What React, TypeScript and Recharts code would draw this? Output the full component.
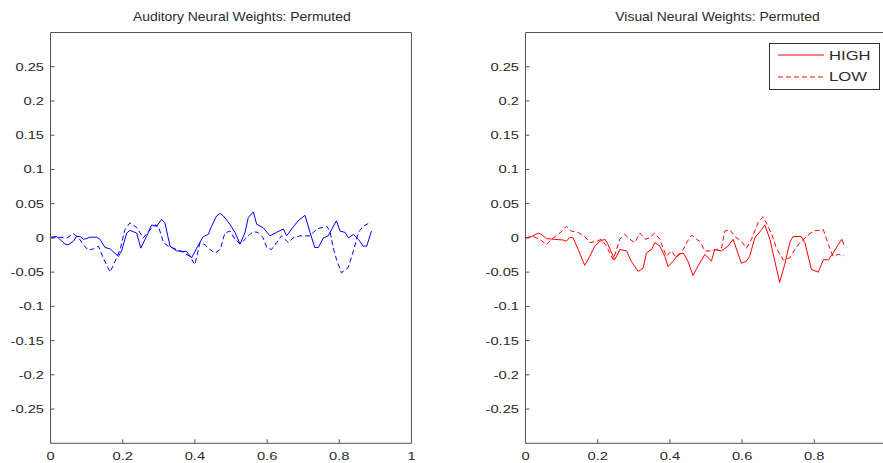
import React from "react";
import { LineChart, Line, XAxis, YAxis, Legend } from "recharts";

// [x, weight] pairs
const auditoryHigh: [number, number][] = [
  [0, 0.001], [0.017, 0.002], [0.026, -0.002], [0.04, -0.009], [0.049, -0.01], [0.063, -0.005],
  [0.072, 0.002], [0.082, 0.002], [0.091, -0.002], [0.1, -0.001], [0.109, 0.001], [0.128, 0.001],
  [0.137, -0.002], [0.151, -0.014], [0.165, -0.016], [0.188, -0.027], [0.197, -0.019], [0.211, 0.007],
  [0.22, 0.011], [0.239, 0.007], [0.25, -0.015], [0.266, 0.002], [0.28, 0.019], [0.294, 0.017],
  [0.308, 0.027], [0.317, 0.022], [0.331, -0.012], [0.349, -0.019], [0.377, -0.02], [0.391, -0.029],
  [0.405, -0.015], [0.423, 0.002], [0.437, 0.005], [0.446, 0.017], [0.46, 0.032], [0.47, 0.036],
  [0.479, 0.032], [0.497, 0.02], [0.511, 0.008], [0.525, -0.009], [0.539, 0.008], [0.548, 0.03],
  [0.562, 0.038], [0.571, 0.02], [0.589, 0.015], [0.608, 0.003], [0.626, 0.008], [0.645, 0.013],
  [0.654, 0.003], [0.668, 0.013], [0.686, 0.025], [0.705, 0.033], [0.719, 0.008], [0.732, -0.014],
  [0.742, -0.014], [0.756, 0], [0.769, 0.003], [0.792, 0.025], [0.802, 0.01], [0.816, 0.008],
  [0.825, 0], [0.839, 0.005], [0.853, -0.002], [0.866, -0.012], [0.876, -0.012], [0.889, 0.01],
];

const auditoryLow: [number, number][] = [
  [0, 0], [0.026, 0.001], [0.045, 0], [0.063, 0.006], [0.077, 0.001], [0.091, -0.01], [0.105, -0.018],
  [0.119, -0.016], [0.133, -0.012], [0.146, -0.029], [0.165, -0.05], [0.179, -0.034], [0.193, -0.017],
  [0.206, 0.012], [0.22, 0.022], [0.239, 0.015], [0.257, 0], [0.276, 0.012], [0.29, 0.019],
  [0.299, 0.017], [0.313, -0.007], [0.326, -0.012], [0.34, -0.015], [0.368, -0.021], [0.386, -0.027],
  [0.4, -0.039], [0.414, -0.007], [0.428, -0.01], [0.442, -0.017], [0.456, -0.022], [0.47, -0.017],
  [0.483, 0.007], [0.497, 0.01], [0.511, -0.002], [0.525, -0.009], [0.539, -0.002], [0.552, 0.005],
  [0.562, 0.009], [0.575, 0.008], [0.589, 0], [0.599, -0.014], [0.612, -0.017], [0.626, -0.007],
  [0.64, 0.003], [0.659, -0.007], [0.672, 0], [0.691, 0.003], [0.719, 0.003], [0.737, 0.013],
  [0.765, 0.017], [0.774, 0.01], [0.783, -0.014], [0.792, -0.031], [0.806, -0.051], [0.825, -0.043],
  [0.839, -0.019], [0.853, 0.008], [0.866, 0.017], [0.88, 0.021],
];

const visualHigh: [number, number][] = [
  [0, 0], [0.017, 0.002], [0.035, 0.007], [0.044, 0.005], [0.058, -0.001], [0.077, -0.002],
  [0.104, -0.003], [0.113, -0.005], [0.123, 0.001], [0.132, 0], [0.146, -0.017], [0.164, -0.04],
  [0.178, -0.027], [0.192, -0.012], [0.206, -0.005], [0.22, -0.002], [0.229, -0.01], [0.247, -0.032],
  [0.257, -0.022], [0.261, -0.017], [0.28, -0.019], [0.293, -0.034], [0.312, -0.049], [0.326, -0.044],
  [0.335, -0.022], [0.349, -0.017], [0.358, -0.007], [0.372, -0.012], [0.386, -0.027], [0.395, -0.042],
  [0.409, -0.034], [0.423, -0.024], [0.437, -0.022], [0.45, -0.034], [0.464, -0.055], [0.478, -0.041],
  [0.497, -0.024], [0.515, -0.034], [0.524, -0.017], [0.543, -0.019], [0.561, -0.012], [0.575, -0.002],
  [0.598, -0.037], [0.612, -0.034], [0.621, -0.027], [0.635, 0], [0.654, 0.012], [0.663, 0.019],
  [0.677, -0.002], [0.704, -0.065], [0.718, -0.039], [0.732, -0.007], [0.741, 0.002], [0.764, 0.002],
  [0.774, -0.007], [0.792, -0.046], [0.811, -0.05], [0.825, -0.032], [0.839, -0.032], [0.852, -0.022],
  [0.866, -0.01], [0.876, -0.002], [0.882, -0.01],
];

const visualLow: [number, number][] = [
  [0, 0], [0.021, 0.002], [0.04, -0.002], [0.058, -0.01], [0.072, -0.002], [0.095, 0.007],
  [0.113, 0.017], [0.127, 0.01], [0.146, 0.008], [0.164, 0.002], [0.178, -0.007], [0.197, -0.005],
  [0.21, -0.002], [0.224, -0.012], [0.243, -0.032], [0.261, -0.002], [0.275, 0.005], [0.289, -0.002],
  [0.303, -0.007], [0.317, 0.007], [0.331, -0.002], [0.344, 0], [0.358, 0.007], [0.372, -0.002],
  [0.39, -0.027], [0.404, -0.019], [0.418, -0.029], [0.437, -0.017], [0.446, -0.007], [0.46, 0.004],
  [0.473, -0.002], [0.483, -0.005], [0.497, -0.019], [0.515, -0.019], [0.529, -0.017], [0.543, -0.015],
  [0.552, 0.01], [0.566, 0.012], [0.58, 0.002], [0.598, -0.005], [0.612, -0.015], [0.626, -0.002],
  [0.644, 0.022], [0.658, 0.031], [0.667, 0.022], [0.681, 0.007], [0.695, -0.015], [0.714, -0.032],
  [0.732, -0.029], [0.746, -0.017], [0.76, -0.007], [0.778, 0.002], [0.797, 0.01], [0.825, 0.012],
  [0.839, -0.01], [0.852, -0.027], [0.866, -0.024], [0.882, -0.026],
];

const xTicks = [0, 0.2, 0.4, 0.6, 0.8, 1];
const xTicksCut = [0, 0.2, 0.4, 0.6, 0.8]; // the "1" of the right panel falls off the page
const yTicks = [0.25, 0.2, 0.15, 0.1, 0.05, 0, -0.05, -0.1, -0.15, -0.2, -0.25];
const seriesNames = ["HIGH", "LOW"];
const titles = ["Auditory Neural Weights: Permuted", "Visual Neural Weights: Permuted"];

const FONT = '"Liberation Sans", Arial, Helvetica, sans-serif';
const TEXT = "#2b2b2b";
const AXIS = "#555555";
const W = 440;
const H = 463;
const STRETCH = 1.28;

const toRows = (pts: [number, number][]) => pts.map(([x, y]) => ({ x, y }));
const fmt = (v: number) => String(Number(v.toFixed(2)));

const XTick = (props: any) => {
  const { x, y, payload } = props;
  return (
    <text transform={`translate(${x},${y}) scale(${STRETCH},1)`} textAnchor="middle" dy="0.71em"
      fill={TEXT} fontSize={11.5} fontFamily={FONT}>
      {fmt(payload.value)}
    </text>
  );
};

const YTick = (props: any) => {
  const { x, y, payload } = props;
  return (
    <text transform={`translate(${x},${y}) scale(${STRETCH},1)`} textAnchor="end" dy="0.35em"
      fill={TEXT} fontSize={11.5} fontFamily={FONT}>
      {fmt(payload.value)}
    </text>
  );
};

const NoTick = () => <g />;

const LegendBox = (props: any) => {
  const items = props.payload || [];
  return (
    <div style={{ width: 111, height: 47, boxSizing: "border-box", border: "1px solid #333", background: "#fff", paddingTop: 1 }}>
      {items.map((e: any) => (
        <div key={e.value} style={{ display: "flex", alignItems: "center", height: 21.5 }}>
          <svg width={54} height={10} style={{ display: "block" }}>
            <line x1={8} x2={54} y1={5} y2={5} stroke={e.color}
              strokeDasharray={e.payload?.strokeDasharray} strokeWidth={1} />
          </svg>
          <span style={{ marginLeft: 5, fontFamily: FONT, fontSize: 13, color: TEXT, display: "inline-block",
            transform: `scaleX(${STRETCH})`, transformOrigin: "left center", lineHeight: "13px" }}>
            {e.value}
          </span>
        </div>
      ))}
    </div>
  );
};

function Panel({ left, title, high, low, color, legend, labelTicks }: any) {
  return (
    <div style={{ position: "absolute", left, top: 0, width: W, height: H }}>
      <div style={{ position: "absolute", left: 22, top: 9, width: W, textAlign: "center", fontFamily: FONT,
        fontSize: 13, color: TEXT, lineHeight: "15px", whiteSpace: "nowrap" }}>
        <span style={{ display: "inline-block", transform: "scaleX(1.07)" }}>{title}</span>
      </div>
      <LineChart width={W} height={H} margin={{ top: 31.5, right: 27.5, bottom: 0, left: 0.5 }}>
        <XAxis xAxisId="b" type="number" dataKey="x" domain={[0, 1]} ticks={labelTicks} height={19.7}
          tickSize={-4} tickMargin={12.7} stroke={AXIS} tick={<XTick />} interval={0} />
        <XAxis xAxisId="t" orientation="top" type="number" dataKey="x" domain={[0, 1]} ticks={xTicks}
          height={1} tickSize={-4} stroke={AXIS} tick={<NoTick />} interval={0} />
        <YAxis yAxisId="l" type="number" domain={[-0.3, 0.3]} ticks={yTicks} width={50}
          tickSize={-4} tickMargin={10.5} stroke={AXIS} tick={<YTick />} interval={0} />
        <YAxis yAxisId="r" orientation="right" type="number" domain={[-0.3, 0.3]} ticks={yTicks} width={1}
          tickSize={-4} stroke={AXIS} tick={<NoTick />} interval={0} />
        <Line xAxisId="b" yAxisId="l" data={toRows(high)} dataKey="y" name={seriesNames[0]} type="linear"
          stroke={color} strokeWidth={1} dot={false} isAnimationActive={false} />
        <Line xAxisId="b" yAxisId="l" data={toRows(low)} dataKey="y" name={seriesNames[1]} type="linear"
          stroke={color} strokeWidth={1} strokeDasharray="5 3" dot={false} isAnimationActive={false} />
        {legend && (
          <Legend layout="vertical" align="center" verticalAlign="middle" content={<LegendBox />}
            wrapperStyle={{ position: "absolute", left: 293.8, top: 42.5, width: "auto" }} />
        )}
      </LineChart>
    </div>
  );
}

export default function App() {
  return (
    <div style={{ position: "absolute", left: 0, top: 0, width: 883, height: 463, overflow: "hidden", background: "#fff" }}>
      <Panel left={0} title={titles[0]} high={auditoryHigh} low={auditoryLow} color="#0000ff" legend={false} labelTicks={xTicks} />
      <Panel left={475.2} title={titles[1]} high={visualHigh} low={visualLow} color="#ff0000" legend labelTicks={xTicksCut} />
    </div>
  );
}
